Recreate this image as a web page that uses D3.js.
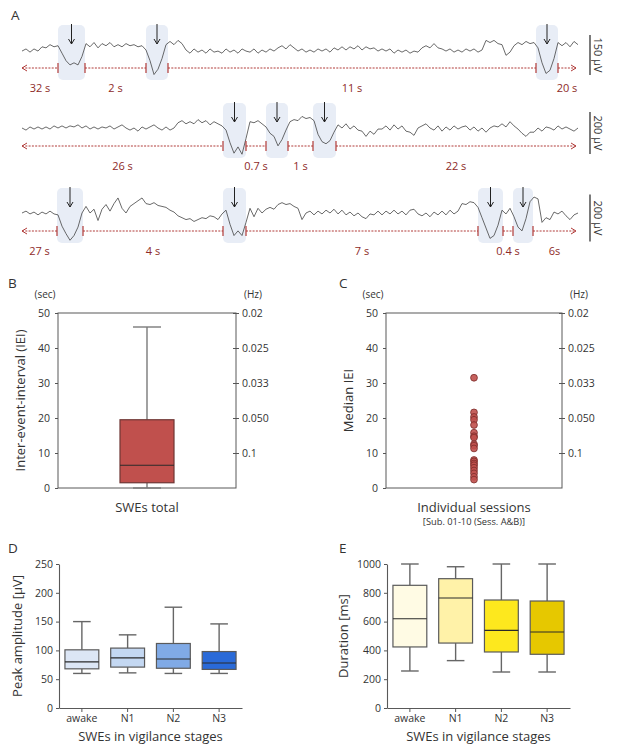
<!DOCTYPE html>
<html><head><meta charset="utf-8">
<script src="https://cdn.jsdelivr.net/npm/d3@7/dist/d3.min.js"></script>
<style>
body{margin:0;background:#fff;}
svg text{font-family:"Open Sans","Noto Sans",sans-serif;}
</style></head><body>
<svg id="fig" width="618" height="750"></svg>
<script>
// ---------------- Panel A data (EEG traces, µV, equal time steps) ----------------
const traceRow1 = [
-4,4,-8,4,-4,12,8,20,12,16,
-12,-40,-56,-48,-56,-24,24,12,28,8,
24,16,28,12,20,12,24,16,20,12,
16,0,-40,-92,-72,-32,20,32,20,36,
24,0,-12,4,-8,0,-12,4,-8,-4,
-12,4,-8,0,-12,4,-4,-8,4,-12,
0,-8,4,-4,8,16,4,20,8,-4,
4,-8,0,-8,4,-4,4,-8,8,0,
12,0,12,4,16,0,12,4,8,-4,
4,-4,4,-12,0,-8,0,-12,-4,-8,
8,16,8,24,8,4,-4,4,-8,0,
-8,4,-4,4,-8,0,36,28,36,24,
20,-20,-8,16,28,20,32,24,28,8,
-48,-88,-76,-32,28,16,28,12,32,20];
const traceRow2 = [
0,-10,5,-5,5,-5,5,-5,10,0,
10,0,10,5,15,0,10,-5,5,-5,
5,0,10,-5,5,15,0,-10,0,-15,
5,-5,5,15,0,-10,5,-10,0,25,
35,20,30,20,40,25,35,15,30,20,
10,-10,-70,-120,-90,-125,-50,30,25,35,
20,5,-25,-40,-85,-55,-10,30,40,35,
55,45,50,35,-30,-65,-75,-60,-20,15,
0,20,-5,10,-10,-15,-40,-15,-30,-5,
-5,10,-10,15,-5,10,-15,-20,-35,0,
10,20,0,-10,10,-15,5,-10,10,-5,
5,10,-10,5,-15,0,-20,0,10,5,
20,5,30,10,-5,-25,-40,-20,-20,0,
-15,5,0,-10,10,-5,5,-5,-15,0];
const traceRow3 = [
0,8,-4,4,-8,4,-4,8,-4,-8,
-56,-88,-116,-96,-60,0,28,0,16,-32,
16,36,8,40,64,20,0,28,40,52,
64,40,36,44,32,28,24,12,4,-12,
-20,-28,-24,-36,-28,-20,-24,-12,-16,-28,
-4,12,-48,-96,-76,-96,-40,20,-16,20,
0,16,24,16,36,44,36,40,28,20,
-28,0,8,-8,8,-4,12,0,16,-4,
12,-8,4,-12,0,-16,-24,-4,-8,8,
-8,8,-4,12,-4,8,-8,12,16,-4,
-12,0,-16,4,-8,8,-8,12,-4,8,
40,36,48,44,24,-20,-64,-108,-96,-52,
12,-4,20,-16,-60,-76,-24,48,68,60,
-40,-20,-28,4,-4,8,-12,-28,-8,0];
// event windows (start/end sample index)
const eventsRow1 = [[9,15.75],[31,36.5],[128.5,134]];
const eventsRow2 = [[50.25,56],[61,66.5],[72.75,78.5]];
const eventsRow3 = [[8.75,15.25],[50.25,56],[114,120.25],[122.75,127.75]];
const intervalsRow1 = ["32 s","2 s","11 s","20 s"];
const intervalsRow2 = ["26 s","0.7 s","1 s","22 s"];
const intervalsRow3 = ["27 s","4 s","7 s","0.4 s","6s"];
const scaleBarsUV = [150,200,200];

// ---------------- Panel B / C data ----------------
const secTicks = [0,10,20,30,40,50];
const hzTickPos = [10,20,30,40,50];
const hzTickLabels = ["0.1","0.050","0.033","0.025","0.02"];
const ieiTotalStats = [0,1.5,6.5,19.5,46]; // low whisker, q1, median, q3, high whisker
const medianIEI = [31.5,21.6,20.3,19.5,18.0,15.8,14.8,14.4,12.5,12.1,11.3,8.0,7.6,7.0,6.5,5.8,5.0,4.2,3.2,2.4];

// ---------------- Panel D / E data ----------------
const stages = ["awake","N1","N2","N3"];
const ampLow = [60,61,60,60];
const ampQ1 = [68,71,69,67];
const ampMedian = [80,87,85,78];
const ampQ3 = [101,104,112,98];
const ampHigh = [150,127,175,146];
const ampTicks = [0,50,100,150,200,250];
const durLow = [257,329,250,250];
const durQ1 = [424,451,389,373];
const durMedian = [620,764,539,528];
const durQ3 = [852,898,750,743];
const durHigh = [1000,981,1000,1000];
const durTicks = [0,200,400,600,800,1000];
const ampColors = ["#dce6f5","#c4d8f2","#80aae6","#2a6ad8"];
const durColors = ["#fffbe4","#fff2a8","#fde81e","#e6c800"];

// ================= drawing =================
const svg = d3.select("#fig");
const TXT = "#333";

function label(t, x, y, size, opts={}) {
  const e = svg.append("text").attr("x", x).attr("y", y).text(t)
    .attr("font-size", size).attr("fill", opts.fill || TXT)
    .attr("text-anchor", opts.anchor || "start");
  if (opts.rot) e.attr("transform", `rotate(${opts.rot},${x},${y})`);
  return e;
}

// panel letters
[["A",11,20],["B",8,288],["C",339,288],["D",8,553],["E",339,553]]
  .forEach(p => label(p[0], p[1], p[2], "13.5px"));

// ---------- Panel A ----------
const rows = [
  {trace: traceRow1, events: eventsRow1, labels: intervalsRow1, bar: scaleBarsUV[0], base: 50, barPx: 40},
  {trace: traceRow2, events: eventsRow2, labels: intervalsRow2, bar: scaleBarsUV[1], base: 128, barPx: 42},
  {trace: traceRow3, events: eventsRow3, labels: intervalsRow3, bar: scaleBarsUV[2], base: 213, barPx: 47}
];
const RED = "#b03a38";
rows.forEach(r => {
  const n = r.trace.length;
  const x = d3.scaleLinear().domain([0, n - 1]).range([22, 578]);
  const y = d3.scaleLinear().domain([0, r.bar]).range([r.base, r.base - r.barPx]);
  const g = svg.append("g");
  g.selectAll("rect.ev").data(r.events).join("rect").attr("class","ev")
    .attr("x", d => x(d[0])).attr("y", r.base - 25)
    .attr("width", d => x(d[1]) - x(d[0])).attr("height", 55)
    .attr("rx", 5).attr("fill", "#e8edf6");
  g.append("path").attr("d", d3.line().x((d, i) => x(i)).y(d => y(d))(r.trace))
    .attr("fill", "none").attr("stroke", "#444").attr("stroke-width", 0.8)
    .attr("stroke-linejoin", "round");
  r.events.forEach(e => {
    const cx = x((e[0] + e[1]) / 2), t = r.base - 26, b = r.base - 6;
    g.append("path").attr("d", `M${cx},${t}V${b}M${cx-3},${b-5}L${cx},${b}L${cx+3},${b-5}`)
      .attr("fill", "none").attr("stroke", "#222").attr("stroke-width", 1);
  });
  const yd = r.base + 18;
  const xs = x(0), xe = x(n - 1) - 2;
  const bounds = [xs].concat(r.events.flat().map(x)).concat([xe]);
  for (let k = 0; k < bounds.length; k += 2) {
    g.append("line").attr("x1", bounds[k]).attr("x2", bounds[k + 1]).attr("y1", yd).attr("y2", yd)
      .attr("stroke", RED).attr("stroke-width", 1).attr("stroke-dasharray", "2 1.3");
    label(r.labels[k / 2], (bounds[k] + bounds[k + 1]) / 2, r.base + 42, "11px", {anchor: "middle", fill: "#8e2a28"});
  }
  r.events.flat().forEach(v => {
    g.append("line").attr("x1", x(v)).attr("x2", x(v)).attr("y1", yd - 5).attr("y2", yd + 5)
      .attr("stroke", RED).attr("stroke-width", 1.2);
  });
  g.append("path").attr("d", `M${xs+5},${yd-3}L${xs},${yd}L${xs+5},${yd+3}M${xe-5},${yd-3}L${xe},${yd}L${xe-5},${yd+3}`)
    .attr("fill", "none").attr("stroke", RED).attr("stroke-width", 1);
  // scale bar
  const len = y(0) - y(r.bar);
  const y1 = r.base + 5 - len / 2;
  g.append("line").attr("x1", 590).attr("x2", 590).attr("y1", y1).attr("y2", y1 + len)
    .attr("stroke", "#222").attr("stroke-width", 1.2);
  label(r.bar + " µV", 594, r.base + 5, "11px", {anchor: "middle", rot: 90});
});

// ---------- Panels B & C ----------
const yB = d3.scaleLinear().domain([0, 50]).range([488, 313]);
function styleAxis(a, size) {
  a.attr("font-family", null).attr("font-size", size).attr("color", "#555");
  a.selectAll("text").attr("fill", TXT);
}
function ieiFrame(x0, x1, ytitle) {
  const g = svg.append("g");
  g.append("rect").attr("x", x0).attr("y", yB(50)).attr("width", x1 - x0).attr("height", yB(0) - yB(50))
    .attr("fill", "none").attr("stroke", "#595959").attr("stroke-width", 1);
  const la = g.append("g").attr("transform", `translate(${x0},0)`)
    .call(d3.axisLeft(yB).tickValues(secTicks).tickSize(3).tickPadding(5));
  const ra = g.append("g").attr("transform", `translate(${x1},0)`)
    .call(d3.axisRight(yB).tickValues(hzTickPos).tickFormat((d, i) => hzTickLabels[i]).tickSize(3).tickPadding(3));
  ra.selectAll(".tick line").attr("x1", -3);
  [la, ra].forEach(a => { a.select(".domain").remove(); styleAxis(a, "10.5px"); });
  label("(sec)", x0 - 13, 298, "10px", {anchor: "middle"});
  label("(Hz)", x1 + 17, 298, "10px", {anchor: "middle"});
  label(ytitle, x0 - 33, (yB(0) + yB(50)) / 2, "13px", {anchor: "middle", rot: -90});
  return g;
}
function boxPlot(g, cx, w, s, y, fill, stroke, whisk) {
  const [lo, q1, md, q3, hi] = s;
  const cw = w * 0.52;
  g.append("line").attr("x1", cx).attr("x2", cx).attr("y1", y(hi)).attr("y2", y(q3)).attr("stroke", whisk).attr("stroke-width", 1.4);
  g.append("line").attr("x1", cx).attr("x2", cx).attr("y1", y(q1)).attr("y2", y(lo)).attr("stroke", whisk).attr("stroke-width", 1.4);
  g.append("line").attr("x1", cx - cw / 2).attr("x2", cx + cw / 2).attr("y1", y(hi)).attr("y2", y(hi)).attr("stroke", whisk).attr("stroke-width", 1.4);
  g.append("line").attr("x1", cx - cw / 2).attr("x2", cx + cw / 2).attr("y1", y(lo)).attr("y2", y(lo)).attr("stroke", whisk).attr("stroke-width", 1.4);
  g.append("rect").attr("x", cx - w / 2).attr("y", y(q3)).attr("width", w).attr("height", y(q1) - y(q3))
    .attr("fill", fill).attr("stroke", stroke).attr("stroke-width", 1.2);
  g.append("line").attr("x1", cx - w / 2).attr("x2", cx + w / 2).attr("y1", y(md)).attr("y2", y(md))
    .attr("stroke", "#2a2a2a").attr("stroke-width", 1.1);
}

const gB = ieiFrame(58, 236, "Inter-event-interval (IEI)");
boxPlot(gB, 147, 54, ieiTotalStats, yB, "#c0504d", "#6e3634", "#7a7a7a");
label("SWEs total", 147, 512, "13px", {anchor: "middle"});

const gC = ieiFrame(386, 562, "Median IEI");
gC.selectAll("circle").data(medianIEI).join("circle")
  .attr("cx", 474).attr("cy", d => yB(d)).attr("r", 3.4)
  .attr("fill", "#c0504d").attr("fill-opacity", 0.9).attr("stroke", "#7b2c2a").attr("stroke-width", 0.8);
label("Individual sessions", 474, 512, "13px", {anchor: "middle"});
label("[Sub. 01-10 (Sess. A&B)]", 474, 525, "9.3px", {anchor: "middle"});

// ---------- Panels D & E ----------
function stagePanel(x0, x1, domainMax, ticks, lo, q1, md, q3, hi, colors, ytitle, titleOff) {
  const y = d3.scaleLinear().domain([0, domainMax]).range([708, 564]);
  const x = d3.scaleBand().domain(stages).range([x0, x1]).paddingInner(0.26).paddingOuter(0.13);
  const g = svg.append("g");
  const la = g.append("g").attr("transform", `translate(${x0},0)`)
    .call(d3.axisLeft(y).tickValues(ticks).tickFormat(d3.format("d")).tickSize(3).tickSizeOuter(0).tickPadding(3));
  const ba = g.append("g").attr("transform", `translate(0,${y(0)})`)
    .call(d3.axisBottom(x).tickSize(4).tickSizeOuter(0).tickPadding(3));
  [la, ba].forEach(a => { styleAxis(a, "10.5px"); a.select(".domain").attr("stroke", "#595959").attr("stroke-width", 1.1); });
  stages.forEach((s, i) => {
    boxPlot(g, x(s) + x.bandwidth() / 2, x.bandwidth(), [lo[i], q1[i], md[i], q3[i], hi[i]], y, colors[i], "#5a5a5a", "#666");
  });
  label(ytitle, x0 - titleOff, (y(0) + y(domainMax)) / 2, "13px", {anchor: "middle", rot: -90});
  label("SWEs in vigilance stages", (x0 + x1) / 2, 741, "13px", {anchor: "middle"});
}
stagePanel(59, 242, 250, ampTicks, ampLow, ampQ1, ampMedian, ampQ3, ampHigh, ampColors, "Peak amplitude [µV]", 37);
stagePanel(387, 570, 1000, durTicks, durLow, durQ1, durMedian, durQ3, durHigh, durColors, "Duration [ms]", 39);
</script>
</body></html>
